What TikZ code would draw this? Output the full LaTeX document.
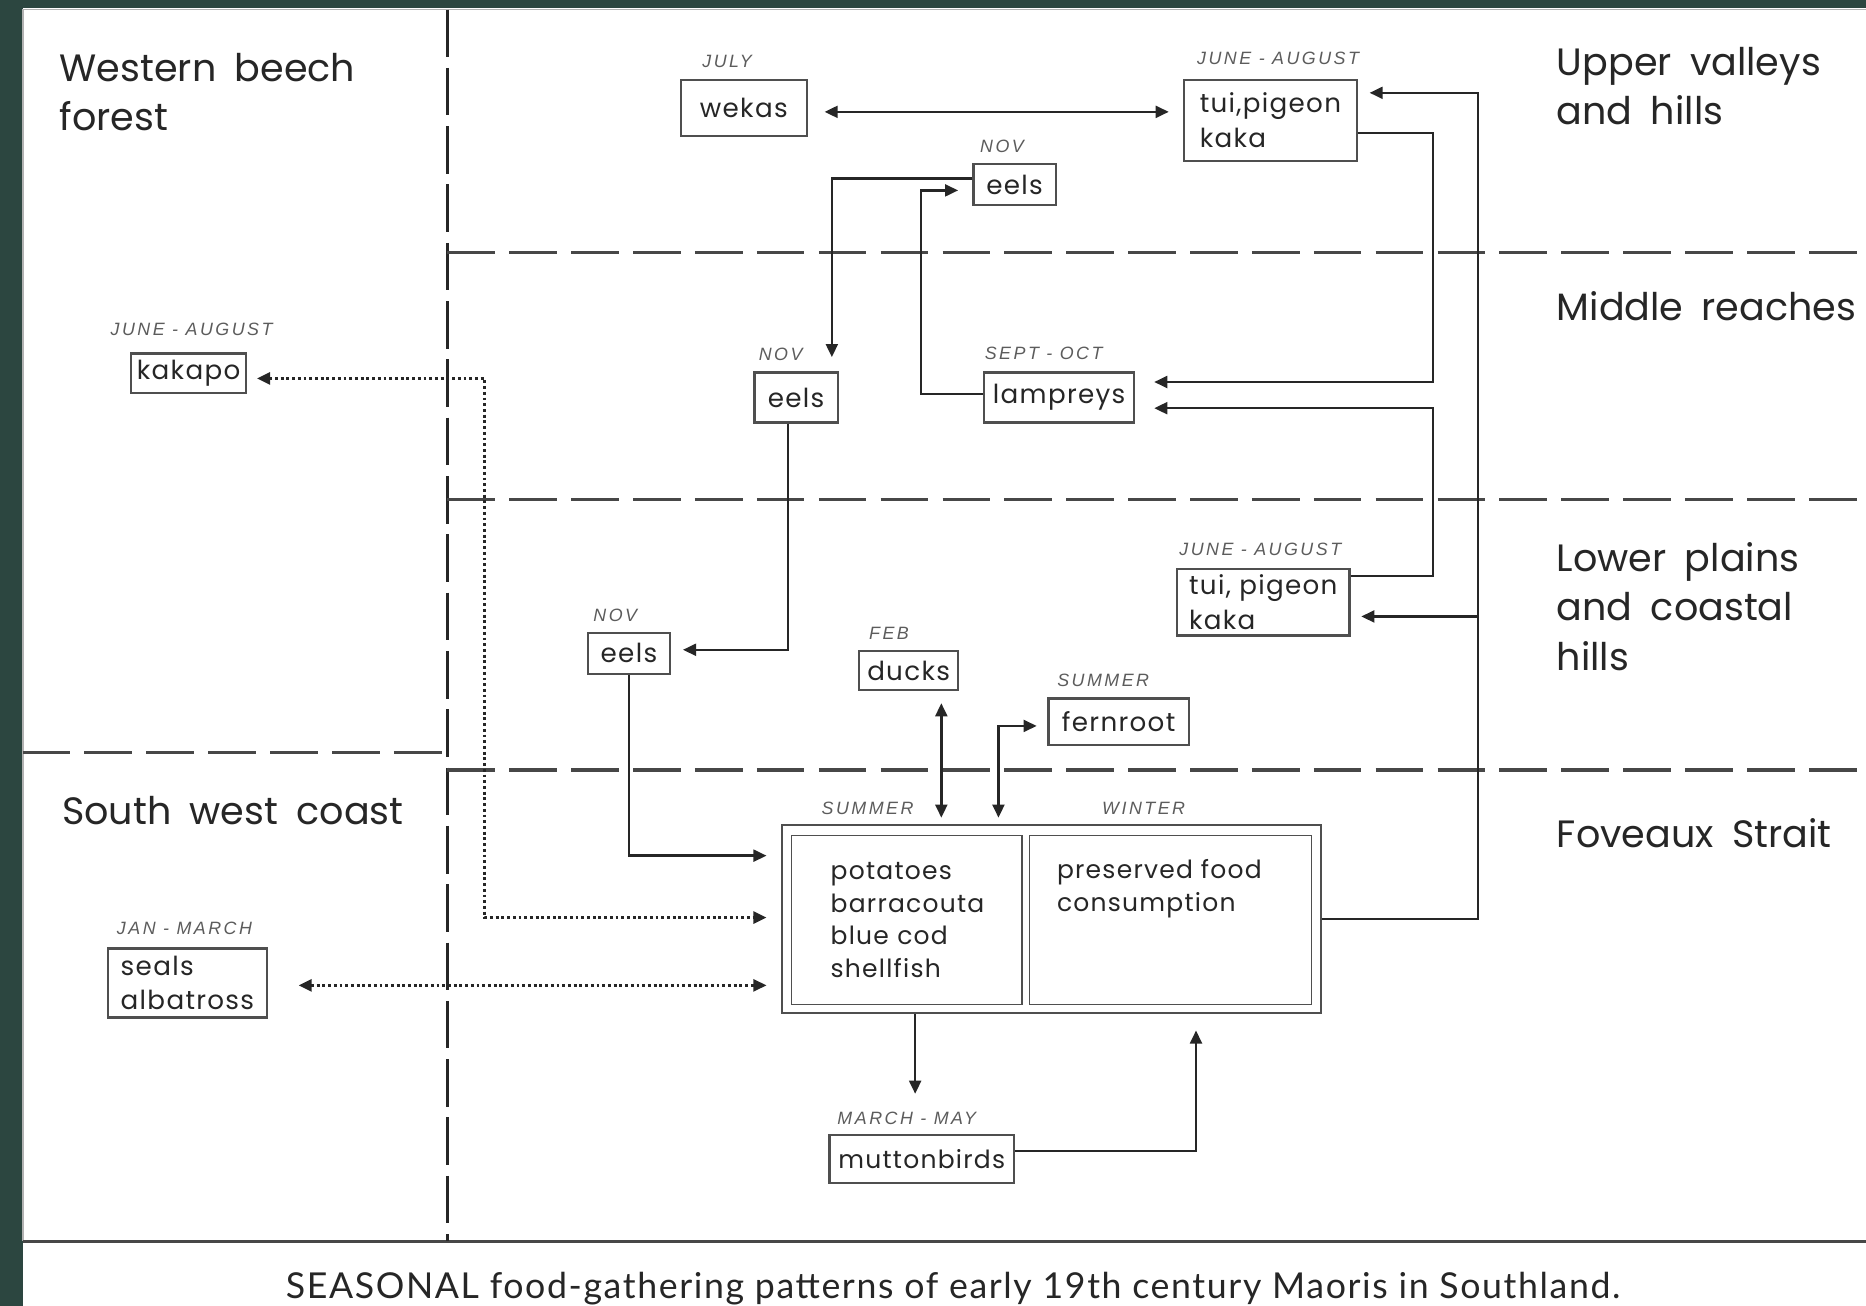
\documentclass[tikz,border=0pt]{standalone}
\usepackage{fontspec}
\setmainfont{Poppins}
\newfontfamily\regionfont[WordSpace=1.8]{Poppins}
\newfontfamily\boxfont[LetterSpace=5]{Poppins}
\newfontfamily\monthfont[LetterSpace=14]{Liberation Sans}
\newfontfamily\capfont[LetterSpace=4.5]{Lato}
\usetikzlibrary{arrows.meta,calc}
\definecolor{bggreen}{HTML}{2C4640}
\definecolor{ink}{HTML}{262626}
\definecolor{boxgray}{HTML}{4F4F4F}
\tikzset{
  region/.style={anchor=base west, align=left, inner sep=0, text=ink,
    font=\regionfont\fontsize{32}{41.5}\selectfont},
  month/.style={inner sep=0, text=ink!75, font=\monthfont\itshape\fontsize{15}{17}\selectfont},
  fbox/.style={draw=boxgray, line width=1.8pt, inner sep=0, text=ink,
    font=\boxfont\fontsize{22}{29}\selectfont},
  conn/.style={draw=ink, line width=2pt},
  tip/.tip={Triangle[length=11pt,width=10pt]},
  arr/.style={conn, -tip},
  biarr/.style={conn, tip-tip},
  dotarr/.style={draw=ink, line width=2.4pt, dash pattern=on 2.4pt off 2.4pt, tip-tip},
  vzone/.style={draw=ink, line width=2.6pt, dash pattern=on 40pt off 9pt},
  hzone/.style={draw=ink!85, line width=2.6pt, dash pattern=on 40pt off 12pt},
}
\begin{document}
\begin{tikzpicture}[x=1pt,y=-1pt]
\fill[bggreen] (0,0) rectangle (1568,1097);
\fill[white] (19,7) rectangle (1568,1097);
\useasboundingbox (0,0) rectangle (1568,1097);
% frame
\draw[gray!60, line width=1.5pt] (19,1043) -- (19,8) -- (1568,8);
\draw[ink!85, line width=2.5pt] (19,1043) -- (1568,1043);
% zones
\draw[vzone] (376,8) -- (376,1043);
\draw[hzone] (376,212) -- (1568,212);
\draw[hzone] (376,420) -- (1568,420);
\draw[hzone] (19,632) -- (376,632);
\draw[hzone] (376,647) -- (1568,647);
% region labels (anchored at the baseline of the last line)
\node[region] (rWest) at (50,110) {Western beech\\forest};
\node[region] (rUpper) at (1308,105) {Upper valleys\\and hills};
\node[region] (rMiddle) at (1308,269) {Middle reaches};
\node[region] (rLower) at (1308,563) {Lower plains\\and coastal\\hills};
\node[region] (rFov) at (1308,712) {Foveaux Strait};
\node[region] (rSW) at (52,693) {South west coast};
% food boxes
\node[fbox, minimum width=106, minimum height=47] (wekas) at (625,90.5) {wekas};
\node[fbox, minimum width=145, minimum height=68, align=left] (tuiT) at (1067.5,101) {tui,pigeon\\kaka};
\node[fbox, minimum width=69, minimum height=34] (eelsT) at (852.5,155) {eels};
\node[fbox, minimum width=70, minimum height=42] (eelsM) at (669,334) {eels};
\node[fbox, minimum width=126, minimum height=42] (lamp) at (890,334) {lampreys};
\node[fbox, minimum width=97, minimum height=33] (kakapo) at (158.5,313.5) {kakapo};
\node[fbox, minimum width=145, minimum height=56, align=left] (tuiL) at (1061.5,506) {tui, pigeon\\kaka};
\node[fbox, minimum width=69, minimum height=34] (eelsL) at (528.5,549) {eels};
\node[fbox, minimum width=83, minimum height=33] (ducks) at (763.5,563.5) {ducks};
\node[fbox, minimum width=118, minimum height=39] (fern) at (940,606.5) {fernroot};
\node[fbox, minimum width=155, minimum height=40, font=\boxfont\fontsize{21}{29}\selectfont] (mutton) at (774.5,974) {muttonbirds};
\node[fbox, minimum width=133, minimum height=58, align=left] (seals) at (157.5,826) {seals\\albatross};
% store
\node[fbox, minimum width=453, minimum height=158] (store) at (883.5,772) {};
\node[fbox, line width=1.5pt, minimum width=194, minimum height=142, text width=128, align=left,
  font=\boxfont\fontsize{21}{27.3}\selectfont] (summer) at (762,773) {potatoes\\barracouta\\blue cod\\shellfish};
\node[fbox, line width=1.5pt, minimum width=237, minimum height=142] (winter) at (983.5,773) {};
\node[anchor=north west, align=left, inner sep=0, text=ink,
  font=\boxfont\fontsize{21}{27.3}\selectfont] (wintertext) at (888,722) {preserved food\\consumption};
% month labels
\node[month] (mWekas) at (611,52) {JULY};
\node[month] (mTuiT) at (1074,49) {JUNE - AUGUST};
\node[month] (mEelsT) at (842,123) {NOV};
\node[month] (mEelsM) at (656,298) {NOV};
\node[month] (mLamp) at (877,297) {SEPT - OCT};
\node[month] (mKakapo) at (161,277) {JUNE - AUGUST};
\node[month] (mTuiL) at (1059,462) {JUNE - AUGUST};
\node[month] (mEelsL) at (517,517) {NOV};
\node[month] (mDucks) at (747,532) {FEB};
\node[month] (mFern) at (927,572) {SUMMER};
\node[month] (mSummer) at (729,679) {SUMMER};
\node[month] (mWinter) at (961,679) {WINTER};
\node[month] (mMutton) at (762,940) {MARCH - MAY};
\node[month] (mSeals) at (155,780) {JAN - MARCH};
% bus coordinates
\coordinate (busB) at (1242,772);
\coordinate (busT) at (1242,78);
\coordinate (busM) at (1242,518);
\coordinate (r1) at (1204,321);
\coordinate (r2) at (1204,343);
\coordinate (l1) at (774,160);
\coordinate (d1) at (407,318);
\coordinate (d2) at (407,771);
% connectors
\draw[biarr, shorten <=14pt, shorten >=12pt] ([yshift=-3.5pt]wekas.east) -- ([yshift=7pt]tuiT.west);
\draw[arr, shorten >=10pt] (store.east) -- (busB) -- (busT) -- ([yshift=23pt]tuiT.east);
\draw[arr, shorten >=9pt] (busM) -- ([yshift=-12pt]tuiL.east);
\draw[arr, shorten >=16pt] ([yshift=-11pt]tuiT.east) -| (r1) -- ([yshift=13pt]lamp.east);
\draw[arr, shorten >=16pt] ([yshift=22pt]tuiL.east) -| (r2) -- ([yshift=-9pt]lamp.east);
\draw[arr, shorten >=12pt] ([yshift=5pt]eelsT.west) -| ([xshift=30pt]eelsM.north);
\draw[arr, shorten >=12pt] ([yshift=3pt]lamp.west) -| (l1) -- ([yshift=-5pt]eelsT.west);
\draw[arr, shorten >=10pt] ([xshift=-7pt]eelsM.south) |- ([yshift=3pt]eelsL.east);
\draw[arr, shorten >=12pt] (eelsL.south) |- ([yshift=53pt]store.west);
\draw[biarr, shorten <=10pt, shorten >=5pt] ([xshift=27.5pt]ducks.south) -- ([xshift=-92.5pt]store.north);
\draw[biarr, shorten <=5pt, shorten >=9pt] ([xshift=-44.5pt]store.north) |- ([yshift=-3.5pt]fern.west);
\draw[dotarr, shorten <=8pt, shorten >=12pt] ([yshift=-4.5pt]kakapo.east) -- (d1) -- (d2) -- ([yshift=1pt]store.west);
\draw[dotarr, shorten <=26pt, shorten >=12pt] ([yshift=-2pt]seals.east) -- ([yshift=-56pt]store.west);
\draw[arr, shorten >=34pt] ([xshift=-114.5pt]store.south) -- ([xshift=-5.5pt]mutton.north);
\draw[arr, shorten >=14pt] ([yshift=7pt]mutton.east) -| ([xshift=121.5pt]store.south);
% caption
\node[anchor=base west, inner sep=0, text=ink, font=\capfont\fontsize{30}{31}\selectfont] (caption) at (240,1091)
  {SEASONAL food-gathering patterns of early 19th century Maoris in Southland.};
\end{tikzpicture}
\end{document}
